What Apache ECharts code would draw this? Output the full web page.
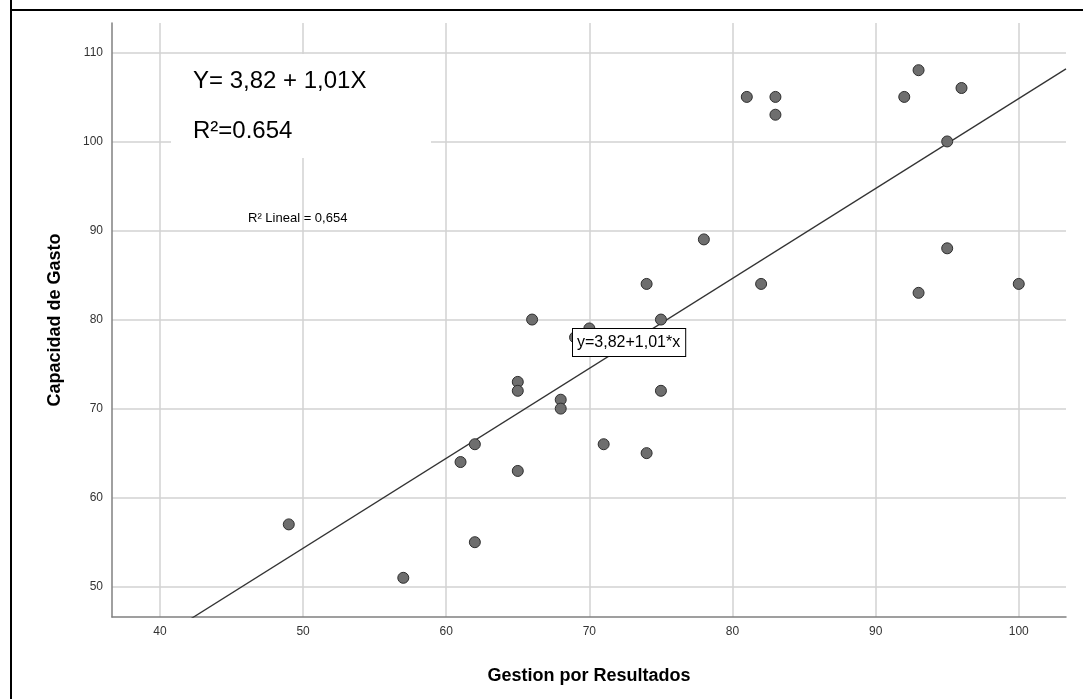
<!DOCTYPE html>
<html><head><meta charset="utf-8">
<script src="https://cdn.jsdelivr.net/npm/echarts@6/dist/echarts.min.js"></script>
<style>html,body{margin:0;padding:0;background:#fff}#c{width:1083px;height:699px}</style>
</head><body><div id="c"></div>
<script>
// Data
const gestion   = [49,57,61,62,62,65,65,65,66,68,68,69,70,71,74,74,75,75,78,81,82,83,83,92,93,93,95,95,96,100];
const capacidad = [57,51,64,66,55,73,72,63,80,71,70,78,79,66,84,65,80,72,89,105,84,105,103,105,108,83,100,88,106,84];
const xTicks = [40,50,60,70,80,90,100];
const yTicks = [50,60,70,80,90,100,110];
const intercept = 3.82;
const slope = 1.01;
const xRange = [36.65, 103.3];
const yRange = [46.6, 113.3];
const xTitle = 'Gestion por Resultados';
const yTitle = 'Capacidad de Gasto';
const eqText = 'Y= 3,82 + 1,01X';
const r2Text = 'R²=0.654';
const r2Lineal = 'R² Lineal = 0,654';
const lineLabel = 'y=3,82+1,01*x';

const points = gestion.map((g,i)=>[g, capacidad[i]]);
const fitLine = xRange.map(x=>[x, intercept + slope*x]);

const FONT = '"Liberation Sans", Arial, sans-serif';
const chart = echarts.init(document.getElementById('c'), null, {renderer:'canvas'});
chart.setOption({
  animation:false,
  backgroundColor:'#fff',
  grid:{left:112, top:23, right:17, bottom:82, containLabel:false},
  xAxis:{
    type:'value', min:xRange[0], max:xRange[1],
    name:xTitle, nameLocation:'middle', nameGap:50,
    nameTextStyle:{fontFamily:FONT, fontWeight:'bold', fontSize:18, color:'#000'},
    axisLine:{show:true, onZero:false, lineStyle:{color:'#808080', width:1.5}},
    axisTick:{show:false, customValues:xTicks},
    axisLabel:{customValues:xTicks, fontFamily:FONT, fontSize:12, color:'#333', margin:9},
    splitLine:{show:true, lineStyle:{color:'#d2d2d2', width:1.5}}
  },
  yAxis:{
    type:'value', min:yRange[0], max:yRange[1],
    name:yTitle, nameLocation:'middle', nameGap:48,
    nameTextStyle:{fontFamily:FONT, fontWeight:'bold', fontSize:18, color:'#000'},
    axisLine:{show:true, onZero:false, lineStyle:{color:'#808080', width:1.5}},
    axisTick:{show:false, customValues:yTicks},
    axisLabel:{customValues:yTicks, fontFamily:FONT, fontSize:12, color:'#333', margin:9},
    splitLine:{show:true, lineStyle:{color:'#d2d2d2', width:1.5}}
  },
  series:[
    {type:'line', data:fitLine, symbol:'none', clip:true, z:3,
     lineStyle:{color:'#333', width:1.3}, silent:true},
    {type:'scatter', data:points, symbolSize:11, z:4,
     itemStyle:{color:'#6e6e6e', borderColor:'#2e2e2e', borderWidth:1, opacity:1}}
  ],
  graphic:[
    {type:'line', shape:{x1:11, y1:0, x2:11, y2:699}, style:{stroke:'#000', lineWidth:2}, z:20},
    {type:'line', shape:{x1:10, y1:10, x2:1083, y2:10}, style:{stroke:'#000', lineWidth:2}, z:20},
    {type:'rect', shape:{x:171, y:54, width:260, height:104}, style:{fill:'#fff'}, z:1},
    {type:'text', x:193, y:81, style:{text:eqText, font:'24px '+FONT, fill:'#000', verticalAlign:'middle', align:'left'}, z:5},
    {type:'text', x:193, y:131, style:{text:r2Text, font:'24px '+FONT, fill:'#000', verticalAlign:'middle', align:'left'}, z:5},
    {type:'text', x:248, y:218, style:{text:r2Lineal, font:'13px '+FONT, fill:'#000', verticalAlign:'middle', align:'left'}, z:5},
    {type:'text', x:573, y:329, style:{text:lineLabel, font:'16px '+FONT, fill:'#000', verticalAlign:'top', align:'left',
      backgroundColor:'#fff', borderColor:'#000', borderWidth:1, padding:[6,5,5,4]}, z:10}
  ]
});
</script></body></html>
